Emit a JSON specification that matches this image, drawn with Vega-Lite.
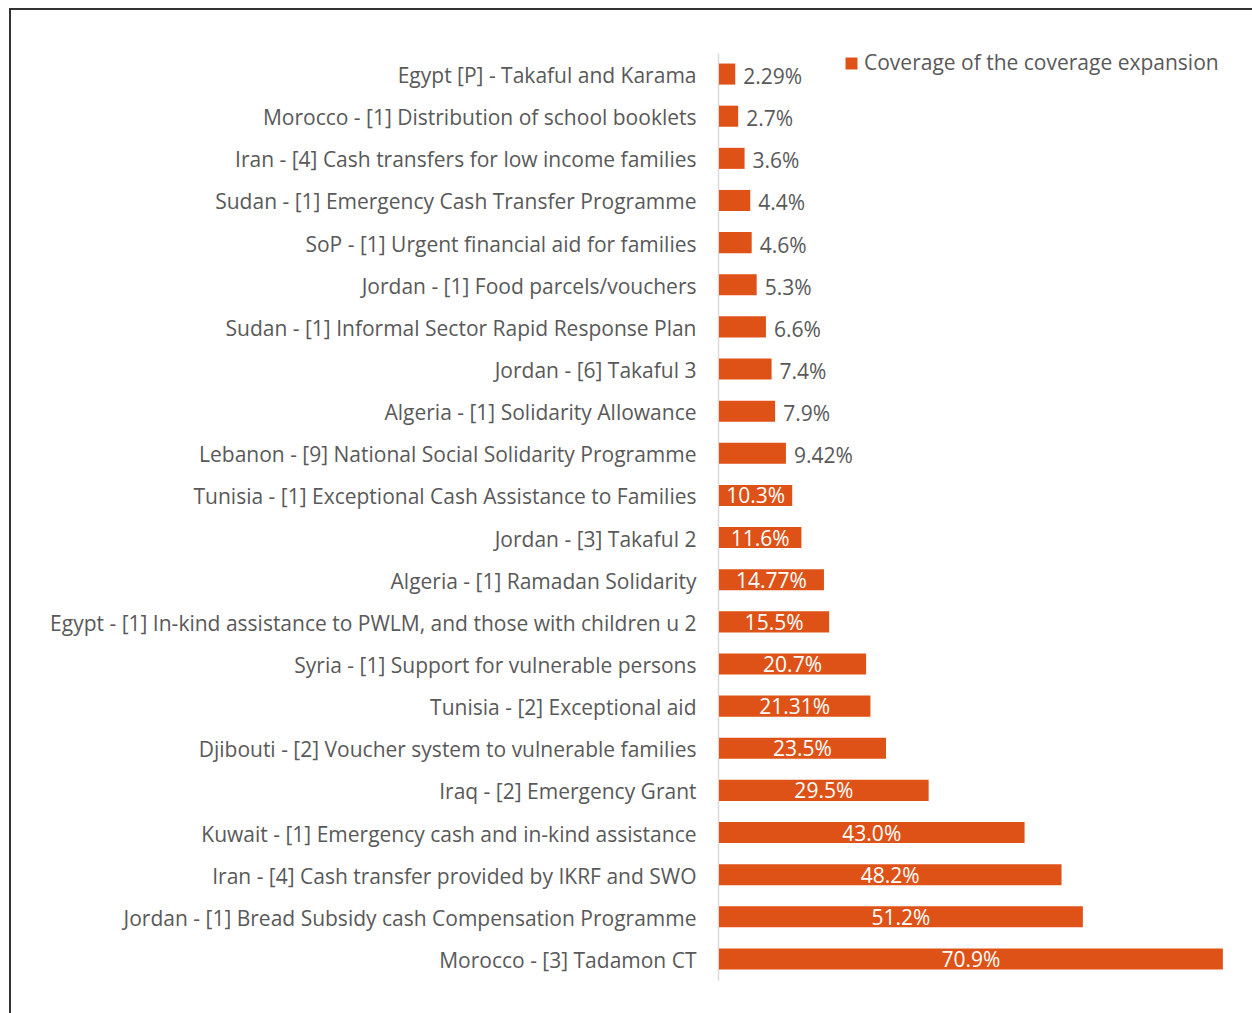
{
  "$schema": "https://vega.github.io/schema/vega-lite/v6.json",
  "autosize": {"type": "none"},
  "padding": {"left": 10, "top": 9, "right": 0, "bottom": 0},
  "width": 1262,
  "height": 1024,
  "background": "white",
  "config": {"view": {"stroke": "#333333", "strokeWidth": 2}, "font": "Open Sans"},
  "data": {"values": [
    {"program": "Egypt [P] - Takaful and Karama", "value": 2.29, "label": "2.29%"},
    {"program": "Morocco - [1] Distribution of school booklets", "value": 2.7, "label": "2.7%"},
    {"program": "Iran - [4] Cash transfers for low income families", "value": 3.6, "label": "3.6%"},
    {"program": "Sudan - [1] Emergency Cash Transfer Programme", "value": 4.4, "label": "4.4%"},
    {"program": "SoP - [1] Urgent financial aid for families", "value": 4.6, "label": "4.6%"},
    {"program": "Jordan - [1] Food parcels/vouchers", "value": 5.3, "label": "5.3%"},
    {"program": "Sudan - [1] Informal Sector Rapid Response Plan", "value": 6.6, "label": "6.6%"},
    {"program": "Jordan - [6] Takaful 3", "value": 7.4, "label": "7.4%"},
    {"program": "Algeria - [1] Solidarity Allowance", "value": 7.9, "label": "7.9%"},
    {"program": "Lebanon - [9] National Social Solidarity Programme", "value": 9.42, "label": "9.42%"},
    {"program": "Tunisia - [1] Exceptional Cash Assistance to Families", "value": 10.3, "label": "10.3%"},
    {"program": "Jordan - [3] Takaful 2", "value": 11.6, "label": "11.6%"},
    {"program": "Algeria - [1] Ramadan Solidarity", "value": 14.77, "label": "14.77%"},
    {"program": "Egypt - [1] In-kind assistance to PWLM, and those with children u 2", "value": 15.5, "label": "15.5%"},
    {"program": "Syria - [1] Support for vulnerable persons", "value": 20.7, "label": "20.7%"},
    {"program": "Tunisia - [2] Exceptional aid", "value": 21.31, "label": "21.31%"},
    {"program": "Djibouti - [2] Voucher system to vulnerable families", "value": 23.5, "label": "23.5%"},
    {"program": "Iraq - [2] Emergency Grant", "value": 29.5, "label": "29.5%"},
    {"program": "Kuwait - [1] Emergency cash and in-kind assistance", "value": 43.0, "label": "43.0%"},
    {"program": "Iran - [4] Cash transfer provided by IKRF and SWO", "value": 48.2, "label": "48.2%"},
    {"program": "Jordan - [1] Bread Subsidy cash Compensation Programme", "value": 51.2, "label": "51.2%"},
    {"program": "Morocco - [3] Tadamon CT", "value": 70.9, "label": "70.9%"}
  ]},
  "encoding": {
    "y": {
      "field": "program", "type": "nominal", "sort": null,
      "scale": {"range": [44, 971], "paddingInner": 0.5, "paddingOuter": 0.25},
      "axis": {"title": null, "offset": -708, "domainColor": "#d9d9d9", "domainWidth": 1.5, "ticks": false, "labelPadding": 22, "labelOffset": 3, "labelFont": "Open Sans", "labelFontSize": 21, "labelColor": "#595959", "labelLimit": 0}
    },
    "x": {"field": "value", "type": "quantitative", "scale": {"domain": [0, 75], "range": [709, 1242]}, "axis": null}
  },
  "layer": [
    {
      "mark": {"type": "bar"},
      "encoding": {
        "color": {
          "datum": "Coverage of the coverage expansion", "type": "nominal",
          "scale": {"range": ["#DE5217"]},
          "legend": {"orient": "none", "legendX": 831, "legendY": 44, "title": null, "padding": 0, "symbolType": "square", "symbolSize": 144, "symbolStrokeWidth": 0, "labelFont": "Open Sans", "labelFontSize": 21, "labelColor": "#595959", "labelOffset": 2, "labelLimit": 0}
        }
      }
    },
    {
      "transform": [{"filter": "datum.value < 10"}],
      "mark": {"type": "text", "align": "left", "dx": 8, "dy": 4, "fontSize": 21, "font": "Open Sans", "color": "#595959"},
      "encoding": {"text": {"field": "label"}}
    },
    {
      "transform": [{"filter": "datum.value >= 10"}, {"calculate": "datum.value / 2", "as": "mid"}],
      "mark": {"type": "text", "align": "center", "dy": 2, "fontSize": 21, "font": "Open Sans", "color": "white"},
      "encoding": {"text": {"field": "label"}, "x": {"field": "mid", "type": "quantitative"}}
    }
  ]
}
